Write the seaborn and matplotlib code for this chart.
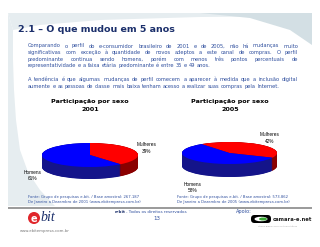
import numpy as np
import matplotlib
matplotlib.use("Agg")
import matplotlib.pyplot as plt
import seaborn as sns
from matplotlib.patches import Polygon, Ellipse, FancyBboxPatch

# data
sexo = ["Mulheres", "Homens"]
anos = ["2001", "2005"]
pct_2001 = [39, 61]
pct_2005 = [42, 58]
base_amostral = ["267.187", "573.862"]

titulo = "2.1 – O que mudou em 5 anos"
paragrafo_1 = [
    "Comparando o perfil do e-consumidor brasileiro de 2001 e de 2005, não há mudanças muito",
    "significativas com exceção à quantidade de novos adeptos a este canal de compras. O perfil",
    "predominante continua sendo homens, porém com menos três pontos percentuais de",
    "representatividade e a faixa etária predominante é entre 35 e 49 anos.",
]
paragrafo_2 = [
    "A tendência é que algumas mudanças de perfil comecem a aparecer à medida que a inclusão digital",
    "aumente e as pessoas de classe mais baixa tenham acesso a realizar suas compras pela Internet.",
]

W, H = 320, 247
TEXT_BLUE = "#2F4F9E"
NAVY = "#1B2F6B"

sns.set_theme(style="white")
plt.rcParams["font.family"] = ["DejaVu Sans"]
top_colors = sns.color_palette(["#FF0000", "#0000FF"])
side_colors = sns.color_palette(["#8A0000", "#14148A"])

fig = plt.figure(figsize=(W / 100, H / 100), dpi=100)
bg = fig.add_axes([0, 0, 1, 1])
bg.set_xlim(0, W)
bg.set_ylim(H, 0)
bg.axis("off")

# slide decoration (light swooshes)
bg.add_patch(Polygon([(8, 13), (8, 206), (55, 206), (40, 190), (28, 172), (20, 150),
                      (16, 120), (14, 90), (13, 60), (13, 30)], closed=True,
                     fc="#E6EDF0", ec="none"))
bg.add_patch(Polygon([(8, 13), (312, 13), (312, 16), (200, 17), (100, 20), (40, 25), (13, 30)],
                     closed=True, fc="#E6EDF0", ec="none"))
bg.add_patch(Polygon([(200, 13), (312, 13), (312, 45), (290, 30), (250, 18)],
                     closed=True, fc="#D3DFE4", ec="none"))

bg.text(18, 29, titulo, fontsize=6.8, fontweight="bold", color=NAVY, va="center")

renderer = fig.canvas.get_renderer()


def justify(line, x0, x1, y, fontsize, stretch=True, **kw):
    words = line.split()
    texts = [bg.text(0, y, w, va="center", fontsize=fontsize, **kw) for w in words]
    widths = [t.get_window_extent(renderer).width for t in texts]
    space = 0.318 * fontsize * 100 / 72
    gap = (x1 - x0 - sum(widths)) / (len(words) - 1) if stretch else space
    x = x0
    for t, w in zip(texts, widths):
        t.set_x(x)
        x += w + gap


body = dict(fontsize=3.7, color=TEXT_BLUE)
for i, line in enumerate(paragrafo_1):
    justify(line, 28, 298, 46 + i * 6.5, stretch=i < len(paragrafo_1) - 1, **body)
for i, line in enumerate(paragrafo_2):
    justify(line, 28, 298, 79.5 + i * 6.5, stretch=i < len(paragrafo_2) - 1, **body)


def pie3d(left, top, width, ry, depth, values, start):
    bottom = top + 2 * ry + depth
    ax = fig.add_axes([left / W, 1 - bottom / H, width / W, (bottom - top) / H])
    d = depth / ry
    for k in np.linspace(d, 0, 40):
        ax.pie(values, colors=side_colors, startangle=start, counterclock=False,
               center=(0, -k), wedgeprops=dict(linewidth=0))
    ax.pie(values, colors=top_colors, startangle=start, counterclock=False,
           wedgeprops=dict(linewidth=0))
    ax.set_aspect("auto")
    ax.set_xlim(-1, 1)
    ax.set_ylim(-1 - d, 1)
    ax.axis("off")
    return ax


pie3d(42, 143, 96, 12, 12, pct_2001, 90)
pie3d(182, 142, 95, 11, 13, pct_2005, 126)

# chart titles
for cx, ano in zip([90, 230], anos):
    bg.text(cx, 101, "Participação por sexo", fontsize=4.6, fontweight="bold",
            ha="center", va="center", color="black")
    bg.text(cx, 109, ano, fontsize=4.6, fontweight="bold", ha="center", va="center",
            color="black")

lab = dict(fontsize=3.4, ha="center", va="center", color="black",
           family=["Liberation Sans", "DejaVu Sans"])
bg.text(147, 144, sexo[0], **lab)
bg.text(147, 151, f"{pct_2001[0]}%", **lab)
bg.text(33, 172, sexo[1], **lab)
bg.text(33, 178, f"{pct_2001[1]}%", **lab)
bg.text(270, 134, sexo[0], **lab)
bg.text(270, 141, f"{pct_2005[0]}%", **lab)
bg.text(193, 184, sexo[1], **lab)
bg.text(193, 190, f"{pct_2005[1]}%", **lab)

# sources
for x0, ano, base in zip([28, 177], anos, base_amostral):
    bg.text(x0, 197, f"Fonte: Grupo de pesquisas e-bit. / Base amostral: {base}",
            fontsize=2.7, color=TEXT_BLUE, va="center")
    bg.text(x0, 202, f"De Janeiro a Dezembro de {ano} (www.ebitempresa.com.br)",
            fontsize=2.7, color=TEXT_BLUE, va="center")

bg.plot([8, 312], [207.5, 207.5], color="#9A9A9A", lw=1.4, solid_capstyle="butt")

# footer
bg.add_patch(Ellipse((34, 218), 12, 12, fc="#E0262B", ec="none"))
bg.text(34, 218.5, "e", fontsize=7, fontweight="bold", color="white", ha="center",
        va="center")
bg.text(40, 217, "bit", fontsize=10, style="italic", color=NAVY, va="center",
        family=["Liberation Serif", "DejaVu Serif"])
bg.text(20, 231, "www.ebitempresa.com.br", fontsize=2.8, color="#777777", va="center")

bg.text(115, 212, "e-bit", fontsize=3, fontweight="bold", color=NAVY, va="center")
bg.text(126, 212, "- Todos os direitos reservados", fontsize=3, color=TEXT_BLUE,
        va="center")
bg.text(157, 218, "13", fontsize=4, color=TEXT_BLUE, ha="center", va="center")
bg.text(236, 211, "Apoio:", fontsize=3.6, color=TEXT_BLUE, va="center")

bg.add_patch(FancyBboxPatch((251, 215), 20, 8, boxstyle="round,pad=0,rounding_size=3.5",
                            fc="black", ec="none"))
bg.add_patch(Ellipse((261, 219), 13, 4.5, fc="white", ec="none"))
bg.add_patch(Ellipse((263, 219), 8, 3, fc="#3AAA35", ec="none"))
bg.text(273, 219.5, "camara-e.net", fontsize=3.8, fontweight="bold", color="#222222",
        va="center")
bg.text(278, 226, "Câmara Brasileira de Comércio Eletrônico", fontsize=1.4,
        color="#999999", ha="center", va="center")

fig.savefig("out.png", dpi=100)
